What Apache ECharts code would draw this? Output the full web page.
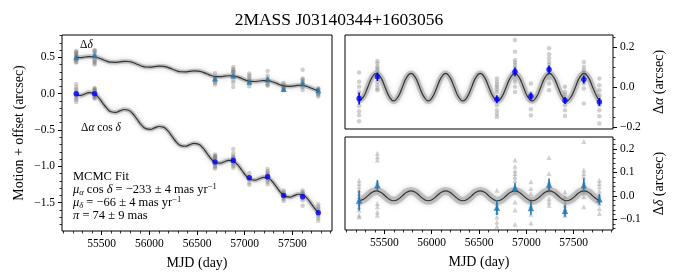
<!DOCTYPE html>
<html>
<head>
<meta charset="utf-8">
<script src="https://cdn.jsdelivr.net/npm/echarts@6/dist/echarts.min.js"></script>
<style>html,body{margin:0;padding:0;background:#fff;}#c{width:677px;height:280px;}</style>
</head>
<body>
<div id="c"></div>
<script>
// ---------------- data ----------------
const titleText = '2MASS J03140344+1603056';
const epochs = [55234, 55427, 56689, 56880, 57048, 57240, 57408, 57607, 57771];
// left panel: motion + offset
const raLeft  = [0.0, 0.0, -0.94, -0.92, -1.157, -1.143, -1.40, -1.42, -1.64];
const decLeft = [0.50, 0.53, 0.207, 0.248, 0.165, 0.198, 0.065, 0.143, 0.047];
// right panels: residual parallax motion
const raResid     = [-0.057, 0.052, -0.06, 0.077, -0.045, 0.089, -0.067, 0.039, -0.074];
const raResidErr  = [0.03, 0.021, 0.02, 0.022, 0.018, 0.02, 0.018, 0.02, 0.02];
const decResid    = [-0.02, 0.046, -0.05, 0.036, -0.052, 0.049, -0.064, 0.046, -0.015];
const decResidErr = [0.043, 0.021, 0.032, 0.02, 0.029, 0.025, 0.025, 0.029, 0.023];
// single-frame measurements (gray)
const grayRaLeft = [
  [0.131, 0.084, 0.059, 0.033, 0.012, -0.013, -0.037, -0.064, -0.084, -0.114],
  [0.079, 0.067, 0.05, 0.042, 0.03, -0.025, -0.042, -0.059, -0.067],
  [-0.836, -0.853, -0.866, -0.878, -0.89, -0.904, -0.971, -0.996, -1.013, -1.03],
  [-0.76, -0.819, -0.861, -0.873, -0.886, -0.9, -0.911, -0.933, -0.953, -0.97, -0.995, -1.021],
  [-1.093, -1.144, -1.177, -1.223, -1.253],
  [-1.037, -1.067, -1.087, -1.105, -1.121, -1.138, -1.163, -1.188, -1.213, -1.247],
  [-1.331, -1.357, -1.373, -1.424, -1.449, -1.478],
  [-1.332, -1.357, -1.373, -1.385, -1.399, -1.44, -1.466, -1.541],
  [-1.522, -1.556, -1.581, -1.606, -1.631, -1.657, -1.682, -1.712, -1.749]
];
const grayDecLeft = [
  [0.587, 0.573, 0.559, 0.544, 0.53, 0.516, 0.502, 0.487, 0.473, 0.459, 0.437, 0.43],
  [0.60, 0.59, 0.575, 0.544, 0.523, 0.47, 0.451, 0.437, 0.415, 0.401],
  [0.281, 0.224, 0.203, 0.188, 0.167, 0.145, 0.127],
  [0.365, 0.339, 0.319, 0.308, 0.294, 0.279, 0.229, 0.186, 0.151, 0.091],
  [0.277, 0.248, 0.227, 0.199, 0.177, 0.138, 0.101],
  [0.313, 0.245, 0.209, 0.188, 0.173, 0.137, 0.123, 0.109],
  [0.146, 0.125, 0.103, 0.089, 0.075, 0.06, 0.046],
  [0.329, 0.207, 0.193, 0.179, 0.157, 0.136, 0.114, 0.093, 0.05],
  [0.075, 0.065, 0.055, 0.04, 0.025, 0.01, -0.005, -0.02, -0.04]
];
const grayRaResid = [
  [0.074, 0.027, 0.002, -0.024, -0.045, -0.07, -0.094, -0.121, -0.141, -0.171],
  [0.131, 0.119, 0.102, 0.094, 0.082, 0.027, 0.01, -0.007, -0.015],
  [0.044, 0.027, 0.014, 0.002, -0.01, -0.024, -0.091, -0.116, -0.133, -0.15],
  [0.237, 0.178, 0.136, 0.124, 0.111, 0.097, 0.086, 0.064, 0.044, 0.027, 0.002, -0.024],
  [0.019, -0.032, -0.065, -0.111, -0.141],
  [0.195, 0.165, 0.145, 0.127, 0.111, 0.094, 0.069, 0.044, 0.019, -0.015],
  [0.002, -0.024, -0.04, -0.091, -0.116, -0.145],
  [0.127, 0.102, 0.086, 0.074, 0.06, 0.019, -0.007, -0.082],
  [0.044, 0.01, -0.015, -0.04, -0.065, -0.091, -0.116, -0.146, -0.183]
];
const grayDecResid = [
  [0.067, 0.053, 0.039, 0.024, 0.01, -0.004, -0.018, -0.033, -0.047, -0.061, -0.083, -0.09],
  [0.182, 0.167, 0.153, 0.06, 0.039, -0.033, -0.047, -0.069, -0.083],
  [0.024, -0.033, -0.054, -0.069, -0.09, -0.112, -0.13],
  [0.153, 0.127, 0.107, 0.096, 0.082, 0.067, 0.017, -0.026, -0.061, -0.121],
  [0.06, 0.031, 0.01, -0.018, -0.04, -0.079, -0.116],
  [0.164, 0.096, 0.06, 0.039, 0.024, -0.012, -0.026, -0.04],
  [0.017, -0.004, -0.026, -0.04, -0.054, -0.069, -0.083],
  [0.232, 0.11, 0.096, 0.082, 0.06, 0.039, 0.017, -0.004, -0.047],
  [0.067, 0.053, 0.039, 0.021, 0.003, -0.012, -0.033, -0.054, -0.076]
];
// MCMC model curves, read along the plotted fit
const modelMjd = [55234,55280,55325,55371,55417,55462,55508,55554,55599,55645,55691,55736,55782,55828,55873,55919,
  55965,56010,56056,56102,56147,56193,56239,56284,56330,56376,56422,56467,56513,56559,56604,56650,
  56696,56741,56787,56833,56878,56924,56970,57015,57061,57107,57152,57198,57244,57289,57335,57381,
  57426,57472,57518,57563,57609,57655,57700,57746,57771];
const modelRaLeft = [-0.016,-0.025,-0.005,0.015,0.006,-0.044,-0.122,-0.200,
  -0.249,-0.258,-0.238,-0.218,-0.228,-0.277,-0.355,-0.433,
  -0.482,-0.491,-0.471,-0.452,-0.461,-0.510,-0.588,-0.666,
  -0.715,-0.724,-0.704,-0.685,-0.694,-0.743,-0.821,-0.899,
  -0.948,-0.957,-0.937,-0.918,-0.927,-0.976,-1.054,-1.132,
  -1.181,-1.190,-1.171,-1.151,-1.160,-1.209,-1.287,-1.365,
  -1.414,-1.423,-1.404,-1.384,-1.393,-1.442,-1.520,-1.598,-1.631];
const modelDecLeft = [0.499,0.497,0.504,0.510,0.508,0.494,0.471,0.447,
  0.433,0.431,0.438,0.444,0.442,0.428,0.405,0.381,
  0.367,0.365,0.372,0.378,0.376,0.362,0.339,0.315,
  0.301,0.299,0.306,0.312,0.310,0.296,0.273,0.249,
  0.235,0.233,0.240,0.246,0.244,0.230,0.207,0.183,
  0.169,0.167,0.174,0.180,0.178,0.164,0.141,0.117,
  0.103,0.101,0.108,0.114,0.112,0.098,0.075,0.051,0.042];
const modelRaPar = [-0.069,-0.049,0,0.049,0.069,0.049,0,-0.049,
  -0.069,-0.049,0,0.049,0.069,0.049,0,-0.049,
  -0.069,-0.049,0,0.049,0.069,0.049,0,-0.049,
  -0.069,-0.049,0,0.049,0.069,0.049,0,-0.049,
  -0.069,-0.049,0,0.049,0.069,0.049,0,-0.049,
  -0.069,-0.049,0,0.049,0.069,0.049,0,-0.049,
  -0.069,-0.049,0,0.049,0.069,0.049,0,-0.049,-0.065];
const modelDecPar = [-0.021,-0.015,0,0.015,0.021,0.015,0,-0.015,
  -0.021,-0.015,0,0.015,0.021,0.015,0,-0.015,
  -0.021,-0.015,0,0.015,0.021,0.015,0,-0.015,
  -0.021,-0.015,0,0.015,0.021,0.015,0,-0.015,
  -0.021,-0.015,0,0.015,0.021,0.015,0,-0.015,
  -0.021,-0.015,0,0.015,0.021,0.015,0,-0.015,
  -0.021,-0.015,0,0.015,0.021,0.015,0,-0.015,-0.020];
// ticks
const xMajor = [55500, 56000, 56500, 57000, 57500];
const xMinor = [55100,55200,55300,55400,55500,55600,55700,55800,55900,56000,56100,56200,56300,56400,56500,
  56600,56700,56800,56900,57000,57100,57200,57300,57400,57500,57600,57700,57800,57900];
const yLeftMajor = [-1.5, -1.0, -0.5, 0.0, 0.5];
const yLeftMinor = [-1.8,-1.7,-1.6,-1.5,-1.4,-1.3,-1.2,-1.1,-1.0,-0.9,-0.8,-0.7,-0.6,-0.5,-0.4,-0.3,-0.2,-0.1,0,0.1,0.2,0.3,0.4,0.5,0.6,0.7,0.8];
const yRaMajor = [-0.2, 0.0, 0.2];
const yRaMinor = [-0.2,-0.15,-0.1,-0.05,0,0.05,0.1,0.15,0.2,0.25];
const yDecMajor = [-0.1, 0.0, 0.1, 0.2];
const yDecMinor = [-0.14,-0.12,-0.1,-0.08,-0.06,-0.04,-0.02,0,0.02,0.04,0.06,0.08,0.1,0.12,0.14,0.16,0.18,0.2,0.22,0.24];

// ---------------- chart ----------------
const SERIF = 'Liberation Serif';
const fmt = v => (v < -1e-9 ? '\u2212' : '') + Math.abs(v).toFixed(1);
const pairs = (xs, ys) => xs.map((x, i) => [x, ys[i]]);
const grayPts = arr => { const out = []; arr.forEach((vals, i) => vals.forEach(v => out.push([epochs[i], v]))); return out; };
const XMIN = 55085, XMAX = 57915;

function majorX(grid, withLabels) {
  return {
    gridIndex: grid, type: 'value', min: XMIN, max: XMAX, position: 'bottom',
    axisLine: {show: false, onZero: false}, splitLine: {show: false},
    axisTick: {show: withLabels, customValues: xMajor, length: 4, lineStyle: {color: '#000', width: 1}},
    axisLabel: {show: withLabels, customValues: xMajor, margin: 7, fontFamily: SERIF, fontSize: 11.5, color: '#000',
      formatter: v => String(v)},
    name: withLabels ? 'MJD (day)' : '', nameLocation: 'middle', nameGap: 25,
    nameTextStyle: {fontFamily: SERIF, fontSize: 14, color: '#000'}
  };
}
function minorX(grid) {
  return {
    gridIndex: grid, type: 'value', min: XMIN, max: XMAX, position: 'bottom',
    axisLine: {show: false, onZero: false}, splitLine: {show: false}, axisLabel: {show: false},
    axisTick: {show: true, customValues: xMinor, length: 2.5, lineStyle: {color: '#000', width: 0.8}}
  };
}
function majorY(grid, pos, min, max, ticks, name, gap, rich) {
  return {
    gridIndex: grid, type: 'value', min: min, max: max, position: pos,
    axisLine: {show: false, onZero: false}, splitLine: {show: false},
    axisTick: {show: true, customValues: ticks, length: 4, lineStyle: {color: '#000', width: 1}},
    axisLabel: {show: true, customValues: ticks, margin: 7, fontFamily: SERIF, fontSize: 11.5, color: '#000', formatter: fmt},
    name: name, nameLocation: 'middle', nameGap: gap, nameRotate: 90,
    nameTextStyle: {fontFamily: SERIF, fontSize: 14, color: '#000', rich: rich}
  };
}
function minorY(grid, pos, min, max, ticks) {
  return {
    gridIndex: grid, type: 'value', min: min, max: max, position: pos,
    axisLine: {show: false, onZero: false}, splitLine: {show: false}, axisLabel: {show: false},
    axisTick: {show: true, customValues: ticks, length: 2.5, lineStyle: {color: '#000', width: 0.8}}
  };
}
const nameRich = {
  n: {fontFamily: SERIF, fontSize: 14, color: '#000'},
  i: {fontFamily: SERIF, fontSize: 14, fontStyle: 'italic', color: '#000'}
};

function gray(xi, yi, data, symbol) {
  return {type: 'scatter', xAxisIndex: xi, yAxisIndex: yi, data: data, symbol: symbol, symbolSize: symbol === 'circle' ? 4.5 : 5,
    itemStyle: {color: 'rgba(110,110,110,0.4)'}, z: 2, silent: true};
}
function band(xi, yi, data, w) {
  return {type: 'line', xAxisIndex: xi, yAxisIndex: yi, data: data, smooth: true, showSymbol: false, symbol: 'none',
    lineStyle: {color: 'rgba(130,130,130,0.4)', width: w, shadowBlur: 5, shadowColor: 'rgba(130,130,130,0.7)'}, z: 3, silent: true};
}
function line(xi, yi, data) {
  return {type: 'line', xAxisIndex: xi, yAxisIndex: yi, data: data, smooth: true, showSymbol: false, symbol: 'none',
    lineStyle: {color: '#333', width: 1.2}, z: 4, silent: true};
}
function errbars(xi, yi, ys, errs, color) {
  return {type: 'custom', xAxisIndex: xi, yAxisIndex: yi, z: 5, silent: true,
    data: epochs.map((e, i) => [e, ys[i], errs[i]]),
    encode: {x: 0, y: 1},
    renderItem: (params, api) => {
      const x = api.value(0), y = api.value(1), e = api.value(2);
      const p1 = api.coord([x, y + e]), p2 = api.coord([x, y - e]);
      return {type: 'line', shape: {x1: p1[0], y1: p1[1], x2: p2[0], y2: p2[1]}, style: {stroke: color, lineWidth: 1.6}};
    }};
}
function pts(xi, yi, data, symbol, color, size) {
  return {type: 'scatter', xAxisIndex: xi, yAxisIndex: yi, data: data, symbol: symbol, symbolSize: size,
    itemStyle: {color: color}, z: 6, silent: true};
}

const BLUE = '#0000ff', STEEL = '#1f77b4';
const FS = 12.5;
const textLine = (x, y, text, rich) => ({
  type: 'text', x: x, y: y, silent: true,
  style: {text: text, align: 'left', verticalAlign: 'middle', fill: '#000', font: FS + 'px "Liberation Serif"', rich: rich}
});
const annRich = {
  n: {fontFamily: SERIF, fontSize: FS, fill: '#000', lineHeight: 15},
  m: {fontFamily: SERIF, fontSize: FS, fontStyle: 'italic', fill: '#000', lineHeight: 15},
  sub: {fontFamily: SERIF, fontSize: 8.5, fontStyle: 'italic', fill: '#000', lineHeight: 8, verticalAlign: 'bottom'},
  sup: {fontFamily: SERIF, fontSize: 8.5, fill: '#000', lineHeight: 8, verticalAlign: 'top'}
};
const lblRich = {
  n: {fontFamily: SERIF, fontSize: 11.5, fill: '#000', lineHeight: 14},
  m: {fontFamily: SERIF, fontSize: 11.5, fontStyle: 'italic', fill: '#000', lineHeight: 14}
};

const chart = echarts.init(document.getElementById('c'), null, {renderer: 'canvas'});
chart.setOption({
  animation: false,
  backgroundColor: '#fff',
  title: {text: titleText, left: 334, top: 6, textAlign: 'center',
    textStyle: {fontFamily: SERIF, fontSize: 17.5, fontWeight: 'normal', color: '#000'}},
  grid: [
    {left: 62, top: 35, width: 270, height: 196, show: true, borderColor: '#000', borderWidth: 1, backgroundColor: '#fff'},
    {left: 345, top: 35, width: 268, height: 94, show: true, borderColor: '#000', borderWidth: 1, backgroundColor: '#fff'},
    {left: 345, top: 137, width: 268, height: 93, show: true, borderColor: '#000', borderWidth: 1, backgroundColor: '#fff'}
  ],
  xAxis: [majorX(0, true), minorX(0), majorX(1, false), majorX(2, true), minorX(2)],
  yAxis: [
    majorY(0, 'left', -1.89, 0.807, yLeftMajor, 'Motion + offset (arcsec)', 36, nameRich),
    minorY(0, 'left', -1.89, 0.807, yLeftMinor),
    majorY(1, 'right', -0.21, 0.262, yRaMajor, '{n|\u0394}{i|\u03b1}{n| (arcsec)}', 39, nameRich),
    minorY(1, 'right', -0.21, 0.262, yRaMinor),
    majorY(2, 'right', -0.146, 0.2515, yDecMajor, '{n|\u0394}{i|\u03b4}{n| (arcsec)}', 39, nameRich),
    minorY(2, 'right', -0.146, 0.2515, yDecMinor)
  ],
  series: [
    // left panel
    gray(0, 0, grayPts(grayRaLeft), 'circle'),
    gray(0, 0, grayPts(grayDecLeft), 'circle'),
    band(0, 0, pairs(modelMjd, modelRaLeft), 4.5),
    band(0, 0, pairs(modelMjd, modelDecLeft), 4.5),
    line(0, 0, pairs(modelMjd, modelRaLeft)),
    line(0, 0, pairs(modelMjd, modelDecLeft)),
    pts(0, 0, pairs(epochs, raLeft), 'circle', BLUE, 5.5),
    pts(0, 0, pairs(epochs, decLeft), 'triangle', STEEL, 6),
    // top right: delta alpha
    gray(2, 2, grayPts(grayRaResid), 'circle'),
    band(2, 2, pairs(modelMjd, modelRaPar), 6),
    line(2, 2, pairs(modelMjd, modelRaPar)),
    errbars(2, 2, raResid, raResidErr, BLUE),
    pts(2, 2, pairs(epochs, raResid), 'circle', BLUE, 5.5),
    // bottom right: delta delta
    gray(3, 4, grayPts(grayDecResid), 'triangle'),
    band(3, 4, pairs(modelMjd, modelDecPar), 8),
    line(3, 4, pairs(modelMjd, modelDecPar)),
    errbars(3, 4, decResid, decResidErr, STEEL),
    pts(3, 4, pairs(epochs, decResid), 'triangle', STEEL, 6.5)
  ],
  graphic: [
    textLine(80, 45, '{n|\u0394}{m|\u03b4}', lblRich),
    textLine(81, 128, '{n|\u0394}{m|\u03b1}{n| cos }{m|\u03b4}', lblRich),
    textLine(73, 177, '{n|MCMC Fit}', annRich),
    textLine(73, 189.5, '{m|\u03bc}{sub|\u03b1}{n| cos }{m|\u03b4}{n| = \u2212233 \u00b1 4 mas yr}{sup|\u22121}', annRich),
    textLine(73, 202.5, '{m|\u03bc}{sub|\u03b4}{n| = \u221266 \u00b1 4 mas yr}{sup|\u22121}', annRich),
    textLine(73, 216, '{m|\u03c0}{n| = 74 \u00b1 9 mas}', annRich)
  ]
});
</script>
</body>
</html>
